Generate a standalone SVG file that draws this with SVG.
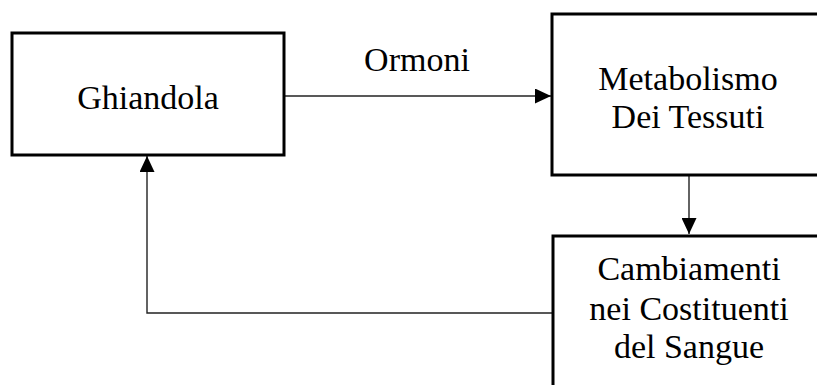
<svg xmlns="http://www.w3.org/2000/svg" width="817" height="385" viewBox="0 0 817 385">
  <style>
    .box { fill: #ffffff; stroke: #000000; stroke-width: 3; }
    .label { font-family: "Liberation Serif", "Times New Roman", serif; font-size: 34px; fill: #000000; text-anchor: middle; }
    .wire { fill: none; stroke: #222222; stroke-width: 1.4; }
  </style>
  <defs>
    <marker id="arrow" viewBox="0 0 16 15" refX="16" refY="7.5" markerWidth="16" markerHeight="15" markerUnits="userSpaceOnUse" orient="auto">
      <path d="M0,0 L16,7.5 L0,15 Z" fill="#000000"/>
    </marker>
  </defs>
  <rect width="817" height="385" fill="#ffffff"/>

  <g id="connectors">
    <path class="wire" d="M284,96 L551,96" marker-end="url(#arrow)"/>
    <path class="wire" d="M689,175 L689,234" marker-end="url(#arrow)"/>
    <path class="wire" d="M553,313 L147,313 L147,156" marker-end="url(#arrow)"/>
    <text class="label" x="417" y="71">Ormoni</text>
  </g>

  <g id="ghiandola">
    <rect class="box" x="12" y="33" width="272" height="122"/>
    <text class="label" x="148" y="109">Ghiandola</text>
  </g>

  <g id="metabolismo">
    <rect class="box" x="552" y="14" width="290" height="161"/>
    <text class="label" x="688" y="90">Metabolismo</text>
    <text class="label" x="688" y="128">Dei Tessuti</text>
  </g>

  <g id="cambiamenti">
    <rect class="box" x="553" y="236" width="290" height="170"/>
    <text class="label" x="689" y="280">Cambiamenti</text>
    <text class="label" x="689" y="320">nei Costituenti</text>
    <text class="label" x="689" y="358">del Sangue</text>
  </g>
</svg>
